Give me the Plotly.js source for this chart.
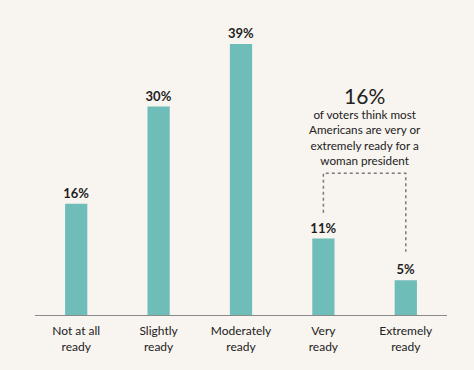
<!DOCTYPE html>
<html>
<head>
<meta charset="utf-8">
<script src="https://cdn.plot.ly/plotly-3.0.1.min.js"></script>
<style>html,body{margin:0;padding:0;background:#f8f4f0;}</style>
</head>
<body>
<div id="chart" style="width:474px;height:370px;"></div>
<script>
const categories = ["Not at all<br>ready", "Slightly<br>ready", "Moderately<br>ready", "Very<br>ready", "Extremely<br>ready"];
const values = [16, 30, 39, 11, 5];
const labels = ["16%", "30%", "39%", "11%", "5%"];
const calloutHead = "16%";
const calloutLines = ["of voters think most", "Americans are very or", "extremely ready for a", "woman president"];

const FONT = "Lato, 'Open Sans', sans-serif";

const trace = {
  type: "bar",
  x: categories,
  y: values,
  text: labels,
  textposition: "outside",
  constraintext: "none",
  cliponaxis: false,
  textfont: {family: FONT, size: 13, color: "#1f1f1f", weight: "bold"},
  marker: {color: "#6fbdb8"},
  width: 0.27,
  hoverinfo: "none"
};

const pxPerUnit = 295 / 42.45;

const annotations = [
  {
    x: 3.5, y: (315 - 81) / pxPerUnit, xref: "x", yref: "y",
    text: "<span style='font-size:21px'>" + calloutHead + "</span><br>" + calloutLines.join("<br>"),
    showarrow: false,
    font: {family: FONT, size: 11.7, color: "#222"},
    xanchor: "center", yanchor: "top"
  }
];

const layout = {
  width: 474,
  height: 370,
  margin: {l: 35, r: 27, t: 20, b: 55},
  paper_bgcolor: "#f8f4f0",
  plot_bgcolor: "#f8f4f0",
  showlegend: false,
  font: {family: FONT, size: 12, color: "#222"},
  xaxis: {
    type: "category",
    range: [-0.5, 4.5],
    showline: true,
    linecolor: "#8a8a8a",
    linewidth: 1,
    ticks: "",
    ticklabelstandoff: 5,
    showgrid: false,
    zeroline: false,
    tickfont: {family: FONT, size: 12, color: "#222"},
    fixedrange: true
  },
  yaxis: {
    range: [0, 42.45],
    visible: false,
    showgrid: false,
    zeroline: false,
    fixedrange: true
  },
  annotations: annotations,
  shapes: [
    {type: "path", xref: "x", yref: "y",
     path: "M 3,14.7 L 3,20.4 L 4,20.4 L 4,9.1",
     line: {color: "#7a7a7a", width: 1.5, dash: "dot"}}
  ]
};

Plotly.newPlot("chart", [trace], layout, {displayModeBar: false, staticPlot: true});
</script>
</body>
</html>
